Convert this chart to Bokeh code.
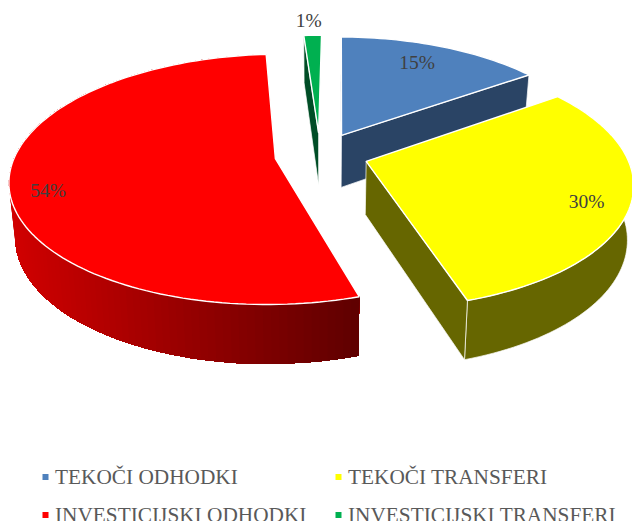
from math import sin, cos, radians
from bokeh.plotting import figure
from bokeh.core.properties import value
from bokeh.embed import file_html
from bokeh.resources import INLINE

categories = ["TEKOČI ODHODKI", "TEKOČI TRANSFERI", "INVESTICIJSKI ODHODKI", "INVESTICIJSKI TRANSFERI"]
shares = [15, 30, 53.7, 1.3]
labels = ["15%", "30%", "54%", "1%"]
top_colors = ["#4f81bd", "#ffff00", "#ff0000", "#00b050"]
wall_colors = ["#2a4465", "#666600", "#a00000", "#004d26"]
explode = [0.183, 0.183, 0.176, 0.183]
label_radius = [0.77, 0.85, 0.86, 1.20]
label_drop = [-3, 5, 12, 2]
label_nudge = [-4, -3, 1, -3]

START = 0.7
CX, CY, A, B, K = 320.0, 154.0, 260.0, 120.4, 0.164
DEPTH, DEPTH_POW, SHRINK = 52.9, 0.62, 0.98


def project(X, Y):
    w = 1.0 / (1.0 + K * Y)
    return CX + A * X * w, CY - B * Y * w


def lower(X, Y):
    w = 1.0 / (1.0 + K * Y)
    x, y = project(X, Y)
    return CX + (x - CX) * SHRINK, y + DEPTH * w ** DEPTH_POW


def plan(centre, angle, r=1.0):
    t = radians(angle)
    return centre[0] + r * sin(t), centre[1] + r * cos(t)


p = figure(width=632, height=521, x_range=(0, 632), y_range=(521, 0),
           output_backend="svg", toolbar_location=None, min_border=0,
           outline_line_color=None, background_fill_color="white")
p.axis.visible = False
p.grid.visible = False


def wall(pts, color, line=0.7):
    xs = [project(*q)[0] for q in pts] + [lower(*q)[0] for q in reversed(pts)]
    ys = [project(*q)[1] for q in pts] + [lower(*q)[1] for q in reversed(pts)]
    p.patch(xs, ys, fill_color=color, line_color="white" if line else None,
            line_width=line if line else 0)


def arc_points(centre, a0, a1):
    n = max(2, int(abs(a1 - a0) / 1.5) + 1)
    return [plan(centre, a0 + (a1 - a0) * i / n) for i in range(n + 1)]


total = float(sum(shares))
angles = []
acc = START
for s in shares:
    angles.append((acc, acc + 360.0 * s / total))
    acc += 360.0 * s / total

centres = [plan((0.0, 0.0), (a0 + a1) / 2.0 - START, e) for (a0, a1), e in zip(angles, explode)]

# Painter's order: blue, green, red, yellow
for i in [0, 3, 2, 1]:
    a0, a1 = angles[i]
    c = centres[i]
    arc = arc_points(c, a0, a1)
    if i == 0:
        wall([c, plan(c, a0)], "#7f93ad", 0)
        wall([c, plan(c, a1)], wall_colors[i])
    elif i == 3:
        wall([plan(c, a0), c], wall_colors[i])
    elif i == 1:
        wall(arc, wall_colors[i])
        wall([c, plan(c, a1)], wall_colors[i])
    else:
        # shaded rim: each band repaints everything to the right of it
        for k in range(len(arc) - 2, -1, -1):
            f = min(1.0, max(0.0, (project(*arc[k])[0] - 15.0) / 344.0))
            wall(arc[:k + 2], "#%02x0000" % int(208 - f * (208 - 96)), 0)
    pts = [c] + arc
    p.patch([project(*q)[0] for q in pts], [project(*q)[1] for q in pts],
            fill_color=top_colors[i], line_color="white", line_width=1.4)

lx, ly = [], []
for c, (a0, a1), r, d, n in zip(centres, angles, label_radius, label_drop, label_nudge):
    x, y = project(*plan(c, (a0 + a1) / 2.0, r))
    lx.append(x + n)
    ly.append(y + d)
p.text(x=lx, y=ly, text=labels, text_font=value("Liberation Serif"), text_font_size="19.5px",
       text_color="#404040", text_align="center", text_baseline="middle")

# Legend
leg_x = [45, 338, 45, 338]
leg_y = [476.5, 476.5, 514.5, 514.5]
p.scatter(x=leg_x, y=leg_y, marker="square", size=6, fill_color=top_colors, line_color=top_colors, line_width=0)
p.text(x=[v + 9.5 for v in leg_x], y=leg_y, text=categories, text_font=value("Liberation Serif"),
       text_font_size="21.3px", text_color="#595959", text_align="left", text_baseline="middle")

open("out.html", "w").write(file_html(p, INLINE))
